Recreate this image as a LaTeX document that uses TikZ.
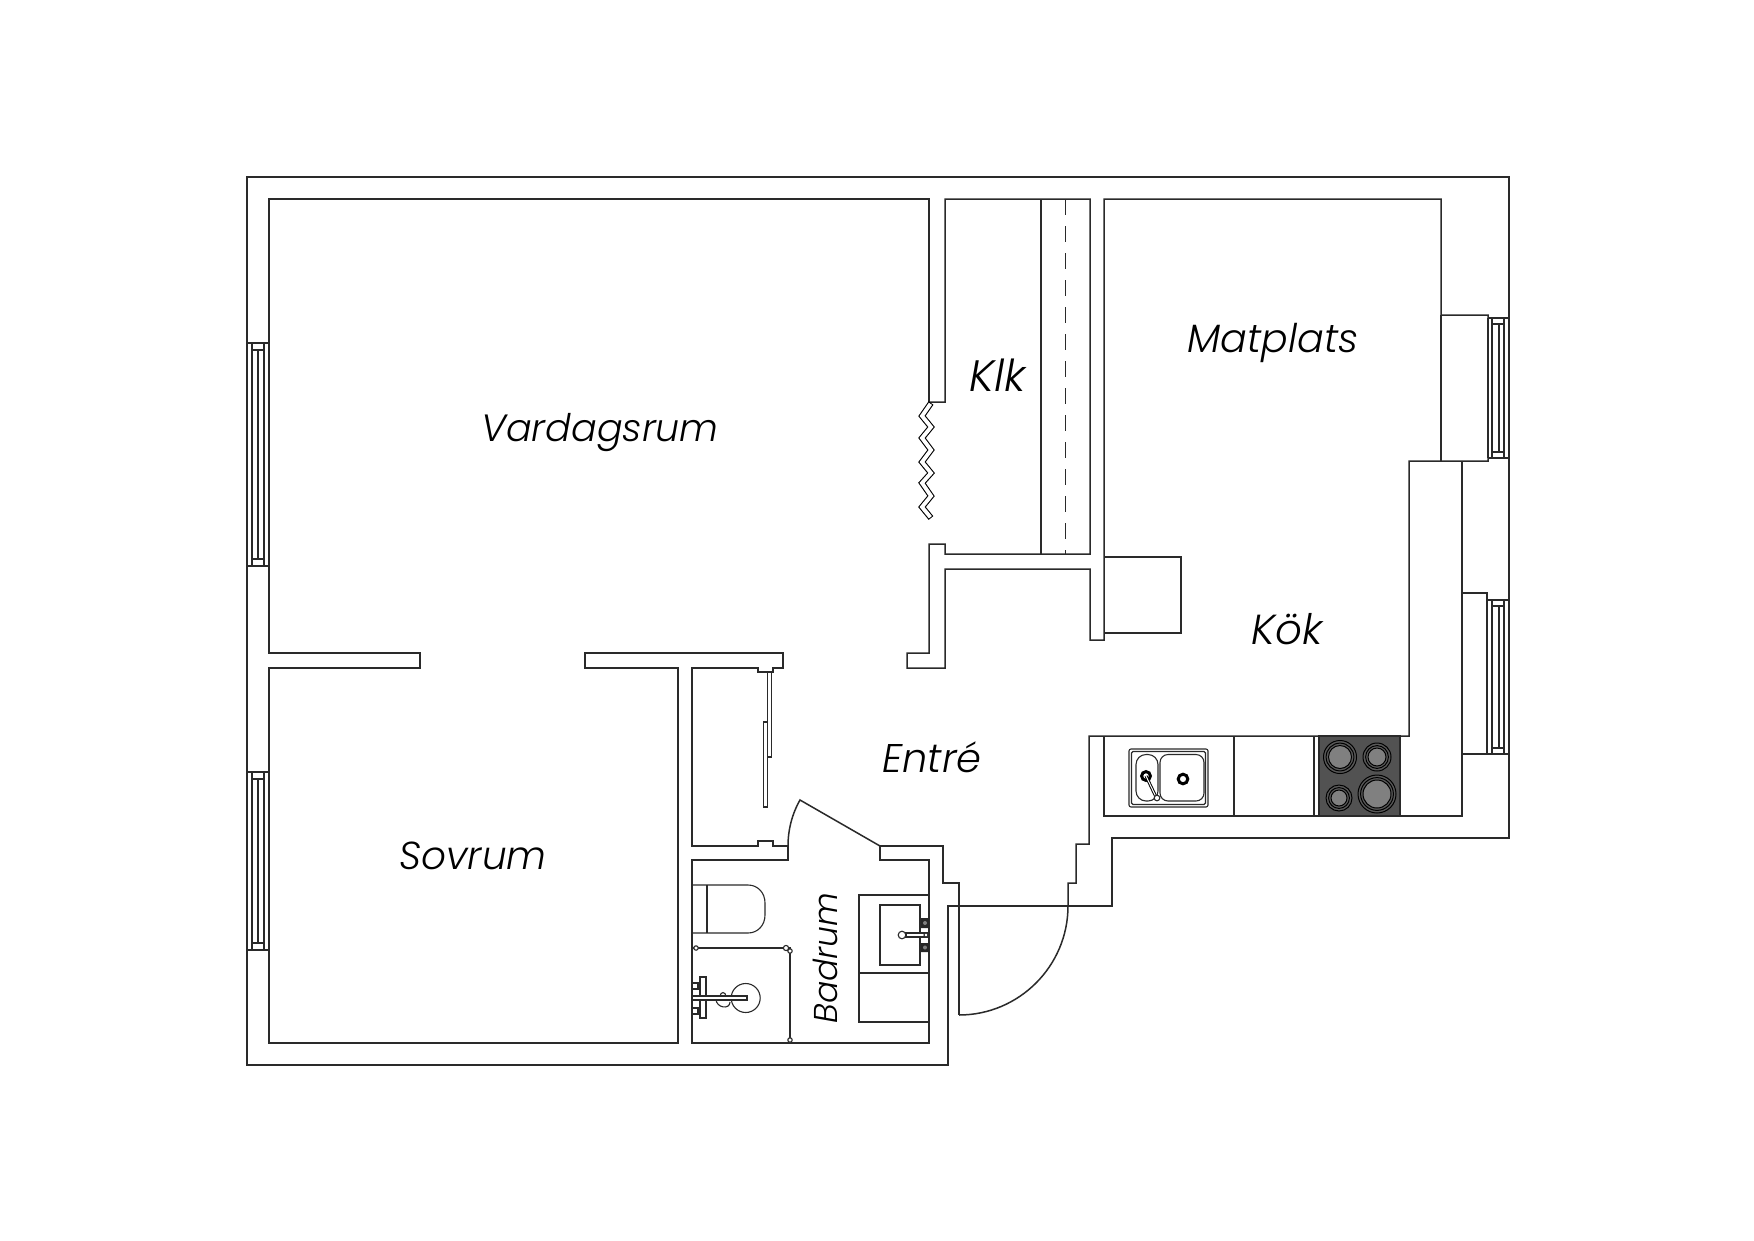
\documentclass[tikz,border=0pt]{standalone}
\usepackage{fontspec}
\newfontfamily\lab{Poppins Light}[ItalicFont={Poppins Light Italic}]
\definecolor{ink}{HTML}{2a2a2a}
\newcommand{\fsz}[1]{\fontsize{#1}{#1}\selectfont}
\tikzset{
  wall/.style={draw=ink,line width=1.5pt,line join=miter},
  fine/.style={draw=ink,line width=1.1pt},
  room/.style={font=\lab\itshape,text=black,inner sep=0pt},
}
\begin{document}
\begin{tikzpicture}[x=1pt,y=-1pt]
\path[fill=white] (0,0) rectangle (1754,1240);
\useasboundingbox (0,0) rectangle (1754,1240);
% outer wall
\draw[wall] (948,906) -- (948,1065) -- (247,1065) -- (247,177) -- (1509,177) -- (1509,838) -- (1112,838) -- (1112,906) -- cycle;
% living room, bedroom, closet, bath, entrance inner contour
\draw[wall] (929,402) -- (929,199) -- (269,199) -- (269,653) -- (420,653) -- (420,668) -- (269,668) -- (269,1043) -- (678,1043) -- (678,668) -- (585,668) -- (585,653) -- (783,653) -- (783,668) -- (773,668) -- (773,672) -- (758,672) -- (758,668) -- (692,668) -- (692,846) -- (758,846) -- (758,841) -- (773,841) -- (773,846) -- (788,846) -- (788,860) -- (692,860) -- (692,1043) -- (929,1043) -- (929,860) -- (880,860) -- (880,846) -- (943,846) -- (943,883) -- (959,883) -- (959,1015);
% entrance door
\draw[wall] (959,1015) .. controls (1019,1015) and (1068,966) .. (1068,906) -- (1068,883) -- (1076,883) -- (1076,844) -- (1089,844) -- (1089,736) -- (1409,736) -- (1409,461) -- (1488,461) -- (1488,315) -- (1441,315) -- (1441,199) -- (1104,199) -- (1104,640) -- (1090,640) -- (1090,569) -- (945,569) -- (945,668) -- (907,668) -- (907,653) -- (929,653) -- (929,544) -- (945,544) -- (945,554) -- (1090,554) -- (1090,199) -- (945,199) -- (945,402) -- (929,402);
% bath door
\draw[wall] (788,846) .. controls (788,830) and (792,814) .. (800,800) -- (880,846);
% kitchen and closet details
\draw[wall] (1441,315) -- (1441,461);
\draw[wall] (1104,557) -- (1181,557) -- (1181,633) -- (1104,633);
\draw[wall] (1104,736) -- (1104,816) -- (1462,816) -- (1462,461);
\draw[wall] (1041,199) -- (1041,554);
\draw[draw=ink,line width=.85pt,dash pattern=on 16pt off 11pt] (1065,199) -- (1065,554);
\draw[wall] (1234,736) -- (1234,816) (1314,736) -- (1314,816);
\draw[wall] (1462,593) -- (1487,593) -- (1487,754) -- (1462,754);
% accordion door
\draw[black,line width=6pt,line join=miter] (931,403) -- (922,416) -- (931,427) -- (922,438) -- (931,450) -- (922,462) -- (931,473) -- (922,483) -- (931,496) -- (922,507) -- (931,518);
\draw[white,line width=3.8pt,line join=miter,shorten >=1pt,shorten <=1pt] (931,403) -- (922,416) -- (931,427) -- (922,438) -- (931,450) -- (922,462) -- (931,473) -- (922,483) -- (931,496) -- (922,507) -- (931,518);
% sliding wardrobe
\draw[fine] (767.5,672) rectangle (771.5,757);
\draw[fine] (763.5,722) rectangle (767.5,807);
% windows
\foreach \ya/\yb in {343/566,772/950}{
  \draw[fine] (247,\ya) -- (269,\ya) (247,\yb) -- (269,\yb);
  \draw[fine] (252,\ya) -- (252,\yb) (264,\ya) -- (264,\yb);
  \draw[fine] (252,\ya+7) -- (264,\ya+7) (252,\yb-7) -- (264,\yb-7);
  \draw[fine] (258,\ya+7) -- (258,\yb-7);
}
\draw[wall] (269,343) -- (269,566);
\foreach \ya/\yb in {318/458,600/754}{
  \draw[fine] (1488,\ya) -- (1509,\ya) (1488,\yb) -- (1509,\yb);
  \draw[fine] (1492,\ya) -- (1492,\yb) (1504,\ya) -- (1504,\yb);
  \draw[fine] (1492,\ya+6) -- (1504,\ya+6) (1492,\yb-6) -- (1504,\yb-6);
  \draw[fine] (1499,\ya+6) -- (1499,\yb-6);
}
\draw[wall] (1488,318) -- (1488,458);
% toilet
\draw[fine] (692,885) -- (748,885) .. controls (758,885) and (765,893) .. (765,903) -- (765,915) .. controls (765,925) and (758,933) .. (748,933) -- (692,933);
\draw[fine] (707,885) -- (707,933);
% shower
\draw[wall] (692,948) -- (790,948) -- (790,1043);
\draw[fine,fill=white] (696,948) circle (2.2) (786,948) circle (2.6) (790,951) circle (2.2) (790,1040) circle (2.2);
\draw[fine] (745.7,998) circle (14.5);
\draw[fine] (700,977) rectangle (706,1018);
\draw[fine] (692,983) rectangle (698,989) (692,1008) rectangle (698,1014);
\draw[fine] (716,999) .. controls (716,1008) and (730,1010) .. (730,1002);
\draw[fine] (720,997) .. controls (720,991) and (726,991) .. (726,997);
\draw[fine,fill=white] (692,996) rectangle (747,1000);
% vanity
\draw[wall] (929,895) -- (859,895) -- (859,1022) -- (929,1022);
\draw[wall] (859,973) -- (929,973);
\draw[wall] (880,905) rectangle (920,965);
\fill[black!85] (921,918) rectangle (929,928) (921,943) rectangle (929,952);
\fill[gray] (925,923) circle (2) (925,947.5) circle (2);
\draw[fine,fill=white] (906,933) rectangle (928,937);
\draw[fine,fill=white] (902,935) circle (3.8);
\draw[fine,fill=white] (926,935) circle (2);
% kitchen sink
\draw[fine,rounded corners=2pt] (1129,749) rectangle (1208,807);
\draw[fine,rounded corners=1.5pt] (1131.5,751.5) rectangle (1205.5,804.5);
\draw[fine,rounded corners=10pt] (1136,754.5) rectangle (1158,801);
\draw[fine,rounded corners=8pt] (1160,754.5) rectangle (1204,801);
\draw[black,line width=3pt] (1146,776) circle (4.4) (1183,779) circle (4.8);
\draw[black,line width=3pt] (1146,776) -- (1156,797);
\draw[white,line width=1pt] (1146,776) -- (1156,797);
\draw[fine,fill=white] (1157,798) circle (2.8);
% hob
\draw[wall,fill=black!68] (1319,736) rectangle (1400,816);
\foreach \cx/\cy/\ra in {1340/757/16.5,1377/757/14,1339/798/13,1377/794/19}{
  \draw[draw=black,line width=1pt,fill=black!65] (\cx,\cy) circle (\ra);
  \draw[draw=black,line width=1pt,fill=black!65] (\cx,\cy) circle (\ra-2.6);
  \draw[draw=black,line width=1pt,fill=black!50] (\cx,\cy) circle (\ra-5);
}
% labels
\node[room] (vardagsrum) at (600,433) {\fsz{38}Vardagsrum};
\node[room] (klk) at (998,375) {\fsz{44}Klk};
\node[room] (matplats) at (1273,343) {\fsz{39.5}Matplats};
\node[room] (kok) at (1287,629) {\fsz{42}Kök};
\node[room] (entre) at (932,757) {\fsz{40}Entré};
\node[room] (sovrum) at (473,856) {\fsz{39}Sovrum};
\node[room,rotate=90] (badrum) at (825,958) {\fsz{33}Badrum};
\end{tikzpicture}
\end{document}
